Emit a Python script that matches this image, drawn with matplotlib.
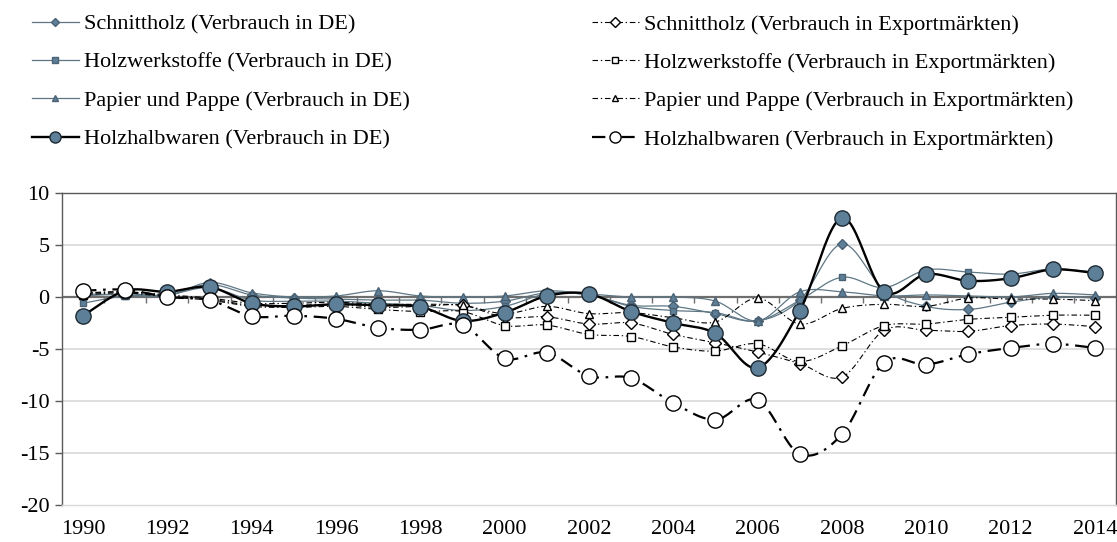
import numpy as np
import matplotlib
matplotlib.use("Agg")
import matplotlib.pyplot as plt
from matplotlib.lines import Line2D

plt.rcParams["font.family"] = ["Liberation Serif", "DejaVu Serif"]
plt.rcParams["axes.unicode_minus"] = False

years = list(range(1990, 2015))

# Veränderung des Verbrauchs (Mio. m³) je Produktgruppe
schnittholz_de = [0.1, 0.3, 0.2, 1.2, 0.2, -0.1, -0.2, -0.3, -0.3, -0.6,
                  -0.4, 0.4, 0.2, -0.8, -0.9, -1.6, -2.3, -0.3, 5.1, 0.7,
                  -0.9, -1.2, -0.5, 0.0, -0.1]
holzwerkstoffe_de = [-0.6, 0.1, 0.2, 0.9, -0.3, -0.4, -0.4, -0.6, -0.8, -1.3,
                     -0.9, 0.3, 0.2, -0.9, -1.3, -1.5, -2.3, -0.3, 1.9, 0.9,
                     2.6, 2.4, 2.2, 2.7, 2.4]
papier_de = [0.3, 0.2, 0.1, 1.4, 0.4, 0.0, 0.1, 0.6, 0.1, 0.0,
             0.1, 0.6, 0.3, 0.0, 0.0, -0.4, -2.3, 0.5, 0.5, 0.1,
             0.2, 0.1, 0.0, 0.35, 0.2]
halbwaren_de = [-1.8, 0.6, 0.5, 0.95, -0.6, -0.9, -0.7, -0.8, -0.95, -2.3,
                -1.5, 0.1, 0.3, -1.4, -2.5, -3.5, -6.8, -1.3, 7.6, 0.5,
                2.2, 1.55, 1.8, 2.65, 2.3]

schnittholz_ex = [0.3, 0.5, 0.1, -0.2, -0.8, -0.8, -0.7, -1.0, -0.9, -0.8,
                  -1.95, -1.9, -2.6, -2.5, -3.6, -4.4, -5.3, -6.4, -7.7, -3.2,
                  -3.2, -3.3, -2.75, -2.6, -2.85]
holzwerkstoffe_ex = [0.2, 0.4, 0.0, -0.3, -0.9, -1.0, -0.9, -1.2, -1.4, -1.4,
                     -2.75, -2.7, -3.6, -3.8, -4.8, -5.2, -4.5, -6.2, -4.7, -2.75,
                     -2.6, -2.15, -1.95, -1.75, -1.75]
papier_ex = [0.4, 0.5, 0.2, -0.1, -0.6, -0.6, -0.5, -0.7, -0.7, -0.8,
             -1.6, -0.9, -1.6, -1.5, -2.0, -2.4, -0.1, -2.6, -1.1, -0.7,
             -0.9, -0.1, -0.2, -0.2, -0.35]
halbwaren_ex = [0.6, 0.7, 0.0, -0.3, -1.85, -1.8, -2.1, -2.95, -3.15, -2.7,
                -5.9, -5.35, -7.6, -7.8, -10.2, -11.8, -9.9, -15.1, -13.2, -6.3,
                -6.5, -5.5, -4.9, -4.5, -4.9]

labels_de = ["Schnittholz (Verbrauch in DE)", "Holzwerkstoffe (Verbrauch in DE)",
             "Papier und Pappe (Verbrauch in DE)", "Holzhalbwaren (Verbrauch in DE)"]
labels_ex = ["Schnittholz (Verbrauch in Exportmärkten)",
             "Holzwerkstoffe (Verbrauch in Exportmärkten)",
             "Papier und Pappe (Verbrauch in Exportmärkten)",
             "Holzhalbwaren (Verbrauch in Exportmärkten)"]


def smooth(x, y, n=24):
    """Catmull-Rom curve through the points (like spreadsheet smoothed lines)."""
    x = np.asarray(x, float)
    y = np.asarray(y, float)
    px = np.concatenate([[x[0]], x, [x[-1]]])
    py = np.concatenate([[y[0]], y, [y[-1]]])
    xs, ys = [], []
    t = np.linspace(0, 1, n, endpoint=False)
    for i in range(1, len(px) - 2):
        p0x, p1x, p2x, p3x = px[i - 1], px[i], px[i + 1], px[i + 2]
        p0y, p1y, p2y, p3y = py[i - 1], py[i], py[i + 1], py[i + 2]
        c1x, c1y = p1x + (p2x - p0x) / 6, p1y + (p2y - p0y) / 6
        c2x, c2y = p2x - (p3x - p1x) / 6, p2y - (p3y - p1y) / 6
        b0, b1, b2, b3 = (1 - t) ** 3, 3 * t * (1 - t) ** 2, 3 * t ** 2 * (1 - t), t ** 3
        xs.append(b0 * p1x + b1 * c1x + b2 * c2x + b3 * p2x)
        ys.append(b0 * p1y + b1 * c1y + b2 * c2y + b3 * p2y)
    xs.append([x[-1]])
    ys.append([y[-1]])
    return np.concatenate(xs), np.concatenate(ys)


fig = plt.figure(figsize=(11.17, 5.42), dpi=100)
ax = fig.add_axes([62 / 1117, 1 - 505 / 542, (1116 - 62) / 1117, (505 - 193) / 542])

xi = np.arange(len(years))
fill = "#5E7F98"
thin_c = "#5F7785"
dd_thin = (0, (5, 2.5, 1.2, 2.5))
dd_thick = (0, (6, 3, 1.2, 3))

styles = [
    # series, marker, size, face, edge, color, lw, ls, zorder
    (schnittholz_de, "D", 5.0, fill, "#4A6274", thin_c, 0.9, "-", 3),
    (holzwerkstoffe_de, "s", 5.0, fill, "#4A6274", thin_c, 0.9, "-", 3),
    (papier_de, "^", 5.5, fill, "#4A6274", thin_c, 0.9, "-", 3),
    (schnittholz_ex, "D", 6.0, "white", "black", "black", 0.8, dd_thin, 4),
    (holzwerkstoffe_ex, "s", 6.0, "white", "black", "black", 0.8, dd_thin, 4),
    (papier_ex, "^", 6.0, "white", "black", "black", 0.8, dd_thin, 4),
    (halbwaren_de, "o", 11.0, fill, "#1E2A33", "black", 1.7, "-", 5),
    (halbwaren_ex, "o", 11.0, "white", "black", "black", 1.6, dd_thick, 6),
]

handles = {}
for vals, mk, ms, fc, ec, lc, lw, ls, z in styles:
    sx, sy = smooth(xi, vals)
    ax.plot(sx, sy, color=lc, lw=lw, ls=ls, zorder=z, solid_capstyle="butt")
    ax.plot(xi, vals, ls="none", marker=mk, ms=ms, mfc=fc, mec=ec, mew=1.0, zorder=z + 0.5)
    handles[id(vals)] = Line2D([], [], color=lc, lw=lw, ls=ls, marker=mk,
                               ms=ms * 0.8 if mk != "o" else 8.0, mfc=fc, mec=ec, mew=1.0)

ax.set_xlim(-0.5, len(years) - 0.5)
ax.set_ylim(-20, 10)
ax.set_yticks(np.arange(-20, 11, 5))
ax.set_yticklabels([str(v) for v in range(-20, 11, 5)])
ax.set_xticks(xi[::2])
ax.set_xticklabels([str(y) for y in years[::2]])
ax.tick_params(axis="x", length=0, pad=10.5, labelsize=16)
ax.tick_params(axis="y", length=5, width=1, color="#595959", pad=4, labelsize=16, direction="out")

for yv in (5, -5, -10, -15):
    ax.axhline(yv, color="#D9D9D9", lw=1.2, zorder=1)
ax.axhline(0, color="#6E6E6E", lw=1.6, zorder=2)
ax.vlines(np.arange(0.5, len(years) - 1, 1), -0.6, 0, color="#6E6E6E", lw=1.0, zorder=2)

for s in ax.spines.values():
    s.set_color("#595959")
    s.set_linewidth(1.0)
ax.spines["bottom"].set_color("#D9D9D9")

de_h = [handles[id(v)] for v in (schnittholz_de, holzwerkstoffe_de, papier_de, halbwaren_de)]
ex_h = [handles[id(v)] for v in (schnittholz_ex, holzwerkstoffe_ex, papier_ex, halbwaren_ex)]

common = dict(frameon=False, fontsize=16, handlelength=2.1, handletextpad=0.23,
              labelspacing=0.8, borderpad=0, borderaxespad=0, loc="upper left")
fig.legend(de_h, labels_de, bbox_to_anchor=(32 / 1117, 1 - 14 / 542), **common)
fig.legend(ex_h, labels_ex, bbox_to_anchor=(592 / 1117, 1 - 14 / 542), **common)

fig.savefig("out.png", dpi=100)
